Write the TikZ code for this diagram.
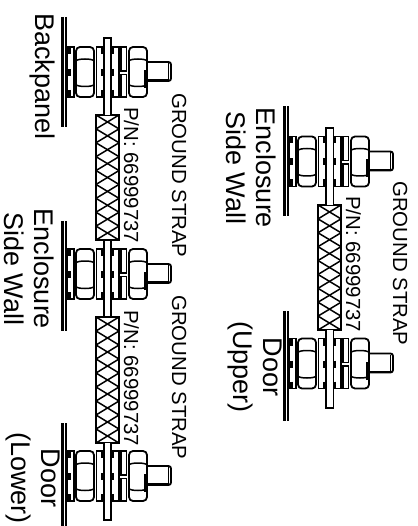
\documentclass[tikz,border=0pt]{standalone}
\usepackage{fontspec}
\setmainfont{Liberation Sans}
\usetikzlibrary{positioning}
\tikzset{
	every picture/.style={x=1pt,y=-1pt},
	part/.style={line width=1.8pt,fill=white},
	stub/.style={line width=2.6pt},
	biglabel/.style={rotate=-90,align=center,inner sep=0pt,font=\fontsize{27}{30}\selectfont},
	smalllabel/.style={rotate=-90,anchor=base west,inner sep=0pt,font=\fontsize{20.4}{24}\selectfont},
	%% nut, with its three faces
	pics/nut/.style={code={
		\draw[part,rounded corners=4pt] (#1,-25) rectangle (#1+18,25);
		\draw[line width=1.5pt] (#1+.5,-11.5) .. controls (#1+3,-13.5) and (#1+15,-13.5) .. (#1+17.5,-11.5);
		\draw[line width=1.5pt] (#1+.5,13) .. controls (#1+3,15) and (#1+15,15) .. (#1+17.5,13);
	}},
	%% bolt on the wall, #1 moves the wall along it
	pics/bolt/.style={code={
		\draw[line width=2.1pt] (1.5,-55+#1) -- (1.5,55+#1) (5.2,-55+#1) -- (5.2,55+#1);
		\draw[part] (6.5,-25) rectangle (13,25);
		\draw[part] (35.5,-25) rectangle (58,25);
		\pic {nut=15};
		\draw[part] (60,-25) rectangle (65.5,-1);
		\draw[part] (60,2.5) rectangle (65.5,25);
		\draw[part,rounded corners=2.5pt] (80,-10) -- (110,-10) -- (110,9) -- (80,9);
		\draw[line width=.9pt] (107.5,-9) -- (107.5,8);
		\draw[line width=2.4pt] (86,8.5) -- (108,8.5);
		\pic {nut=68};
		\draw[line width=2.2pt] (84.5,-2) -- (84.5,16);
		\foreach \ya/\yb in {-25/-18,-3/4,18/25}{
			\draw[stub] (8.5,\ya) -- (8.5,\yb);
			\draw[stub] (41,\ya) -- (41,\yb) (52,\ya) -- (52,\yb);
		}
	}},
	%% woven part of the strap
	pics/braid/.style={code={
		\draw[part] (0,0) rectangle (23,#1);
		\pgfmathsetmacro{\cellh}{#1/9}
		\foreach \k in {0,...,8}{
			\draw[line width=1.5pt] (0,\k*\cellh) -- (23,\k*\cellh+\cellh);
			\draw[line width=1.5pt] (23,\k*\cellh) -- (0,\k*\cellh+\cellh);
		}
	}}
}
\tikzstyle{strap}=[line width=1.8pt,fill=white]
\begin{document}
\begin{tikzpicture}
\useasboundingbox (0,0) rectangle (417,526);
%% left assembly
\pic at (61,72) {bolt=0};
\pic at (61,274) {bolt=2};
\pic at (61,476) {bolt=2};
\pic at (96,115) {braid=125};
\pic at (96,317) {braid=126};
\draw[strap] (104,115) -- (104,38) -- (111,38) -- (111,115);
\draw[strap] (104,240) rectangle (111,317);
\draw[strap] (104,443) -- (104,520) -- (111,520) -- (111,443);
%% right assembly
\pic at (283,161.5) {bolt=0};
\pic at (283,363.5) {bolt=2.5};
\pic at (318,205) {braid=125};
\draw[strap] (326,205) -- (326,128) -- (333.5,128) -- (333.5,205);
\draw[strap] (326,330) -- (326,408) -- (333.5,408) -- (333.5,330);
%% labels
\node[biglabel,anchor=base west] (backpanel) at (35,13) {Backpanel};
\node[biglabel] (wallb) at (29,269) {Enclosure\\Side Wall};
\node[biglabel] (doorb) at (33,478) {Door\\(Lower)};
\node[biglabel] (wallr) at (251,168) {Enclosure\\Side Wall};
\node[biglabel] (doorr) at (255,367) {Door\\(Upper)};
\node[smalllabel] (pnone) at (124,107) {P/N: 66999737};
\node[smalllabel] (pntwo) at (124,310) {P/N: 66999737};
\node[smalllabel] (pnthree) at (346,196) {P/N: 66999737};
\node[smalllabel] (gsone) at (172,93) {GROUND STRAP};
\node[smalllabel] (gstwo) at (172,295) {GROUND STRAP};
\node[smalllabel] (gsthree) at (393,181) {GROUND STRAP};
\end{tikzpicture}
\end{document}
